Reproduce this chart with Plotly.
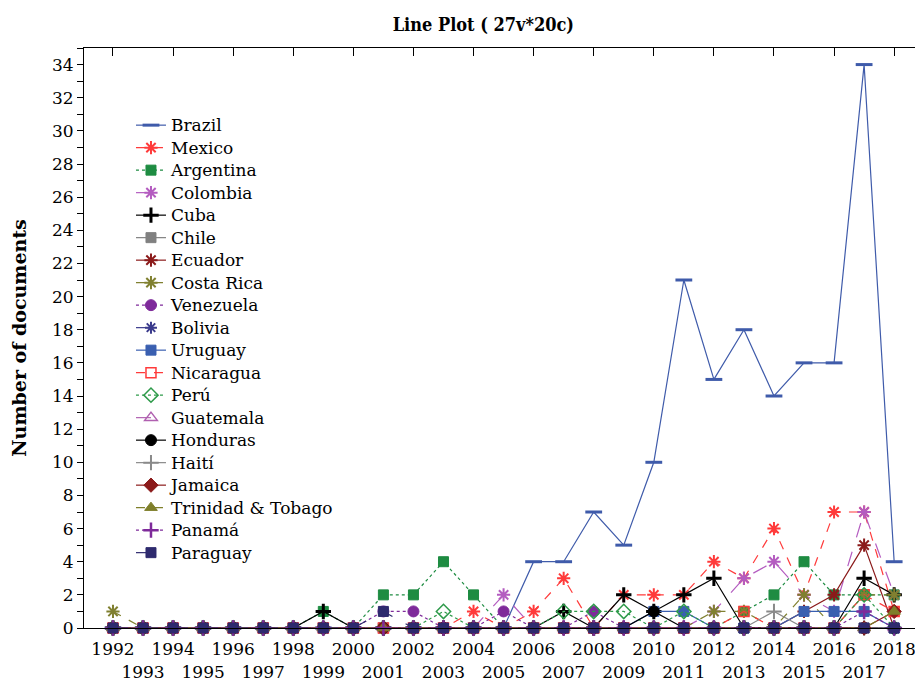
import plotly.graph_objects as go

years = list(range(1992, 2019))

def series(vals):
    d = {y: 0 for y in years}
    d.update(vals)
    return [d[y] for y in years]

brazil = series({2006: 4, 2007: 4, 2008: 7, 2009: 5, 2010: 10, 2011: 21, 2012: 15,
                 2013: 18, 2014: 14, 2015: 16, 2016: 16, 2017: 34, 2018: 4})
mexico = series({2004: 1, 2006: 1, 2007: 3, 2009: 2, 2010: 2, 2011: 2, 2012: 4,
                 2013: 3, 2014: 6, 2015: 2, 2016: 7, 2017: 7, 2018: 1})
argentina = series({1999: 1, 2001: 2, 2002: 2, 2003: 4, 2004: 2, 2013: 1, 2014: 2,
                    2015: 4, 2016: 2, 2017: 2, 2018: 2})
colombia = series({2005: 2, 2012: 1, 2013: 3, 2014: 4, 2015: 2, 2016: 1, 2017: 7, 2018: 2})
cuba = series({1999: 1, 2007: 1, 2009: 2, 2010: 1, 2011: 2, 2012: 3, 2017: 3, 2018: 2})
chile = series({})
ecuador = series({2015: 1, 2016: 2, 2017: 5})
costa_rica = series({1992: 1, 2012: 1, 2013: 1, 2015: 2, 2017: 2, 2018: 2})
venezuela = series({2001: 1, 2002: 1, 2005: 1, 2008: 1})
bolivia = series({})
uruguay = series({2010: 1, 2011: 1, 2015: 1, 2016: 1, 2017: 1})
nicaragua = series({2013: 1, 2017: 2, 2018: 1})
peru = series({2003: 1, 2007: 1, 2008: 1, 2009: 1, 2011: 1, 2017: 2})
guatemala = series({})
honduras = series({2010: 1})
haiti = series({2014: 1})
jamaica = series({2018: 1})
trinidad = series({2018: 1})
panama = series({2017: 1})
paraguay = series({2001: 1})

names = ["Brazil", "Mexico", "Argentina", "Colombia", "Cuba", "Chile", "Ecuador",
         "Costa Rica", "Venezuela", "Bolivia", "Uruguay", "Nicaragua", "Perú",
         "Guatemala", "Honduras", "Haití", "Jamaica", "Trinidad & Tobago", "Panamá",
         "Paraguay"]
data = [brazil, mexico, argentina, colombia, cuba, chile, ecuador, costa_rica,
        venezuela, bolivia, uruguay, nicaragua, peru, guatemala, honduras, haiti,
        jamaica, trinidad, panama, paraguay]

styles = [
    ("#3F5BAA", "solid", "line-ew-open", 12, 3),
    ("#FF3A3A", "dash", "asterisk-open", 11, 2),
    ("#1E8C42", "dot", "square", 10, 1),
    ("#B45CC0", "longdash", "asterisk-open", 11, 2),
    ("#000000", "solid", "cross-thin-open", 11, 3),
    ("#808080", "solid", "square", 10, 1),
    ("#8B1A1A", "solid", "asterisk-open", 11, 2),
    ("#808030", "dash", "asterisk-open", 11, 2),
    ("#7E2A9A", "dot", "circle", 11, 1),
    ("#3A3A8C", "longdash", "asterisk-open", 10, 2),
    ("#3A5FB0", "solid", "square", 10, 1),
    ("#FF3A3A", "dash", "square-open", 10, 1.5),
    ("#2E9A4A", "dot", "diamond-open", 11, 1.5),
    ("#B060B0", "longdash", "triangle-up-open", 11, 1.5),
    ("#000000", "solid", "circle", 11, 1),
    ("#8A8A8A", "solid", "cross-thin-open", 11, 2),
    ("#8B1A1A", "solid", "diamond", 11, 1),
    ("#7F7F2A", "dash", "triangle-up", 11, 1),
    ("#7E2A9A", "dot", "cross-thin-open", 11, 2.5),
    ("#2E2A6E", "longdash", "square", 10, 1),
]

fig = go.Figure()
for name, vals, (col, dash, sym, size, mlw) in zip(names, data, styles):
    fig.add_trace(go.Scatter(
        x=years, y=vals, mode="lines+markers",
        name="<span style='font-size:17px'>" + name + "</span>",
        line=dict(color=col, width=1.2, dash=dash),
        marker=dict(symbol=sym, size=size, color=col,
                    line=dict(color=col, width=mlw)),
        cliponaxis=False,
    ))

# invisible trace to carry the top axis
fig.add_trace(go.Scatter(x=[years[0]], y=[0], xaxis="x2", showlegend=False,
                         mode="markers", marker=dict(opacity=0), hoverinfo="skip"))

ticktext = [str(y) if (y % 2 == 0) else "<br>" + str(y) for y in years]

fig.update_layout(
    width=923, height=681,
    margin=dict(l=76, r=8, t=40, b=61, autoexpand=False),
    paper_bgcolor="white", plot_bgcolor="white",
    font=dict(family="DejaVu Serif", size=17, color="black"),
    title=dict(text="<b>Line Plot ( 27v*20c)</b>", x=0.515, xanchor="center",
               y=0.975, yanchor="middle",
               font=dict(family="DejaVu Serif Condensed, DejaVu Serif", size=18)),
    xaxis=dict(range=[1991.035, 2018.96], tickvals=years, ticktext=ticktext,
               tickangle=0, automargin=False, ticklabelstandoff=6,
               showline=True, linecolor="black", linewidth=1, ticks="",
               showgrid=False, zeroline=False, tickfont=dict(size=17)),
    xaxis2=dict(overlaying="x", side="top", matches="x", range=[1991.035, 2018.96],
                tick0=1992, dtick=2, ticks="inside", ticklen=8, tickcolor="black",
                showticklabels=False, showline=True, linecolor="black",
                showgrid=False, zeroline=False, automargin=False),
    yaxis=dict(range=[0, 35], tick0=0, dtick=2, ticks="outside", ticklen=6,
               tickcolor="black", showline=True, linecolor="black", automargin=False,
               showgrid=False, zeroline=False, tickfont=dict(size=17),
               minor=dict(dtick=1, ticks="outside", ticklen=6, tickcolor="black"),
               title=dict(text="<b>Number of documents</b>", standoff=23,
                          font=dict(size=19))),
    legend=dict(x=0.056, y=0.895, xanchor="left", yanchor="top",
                bgcolor="rgba(0,0,0,0)", borderwidth=0,
                font=dict(family="DejaVu Serif", size=15)),
    showlegend=True,
)

fig.write_html("out.html")
